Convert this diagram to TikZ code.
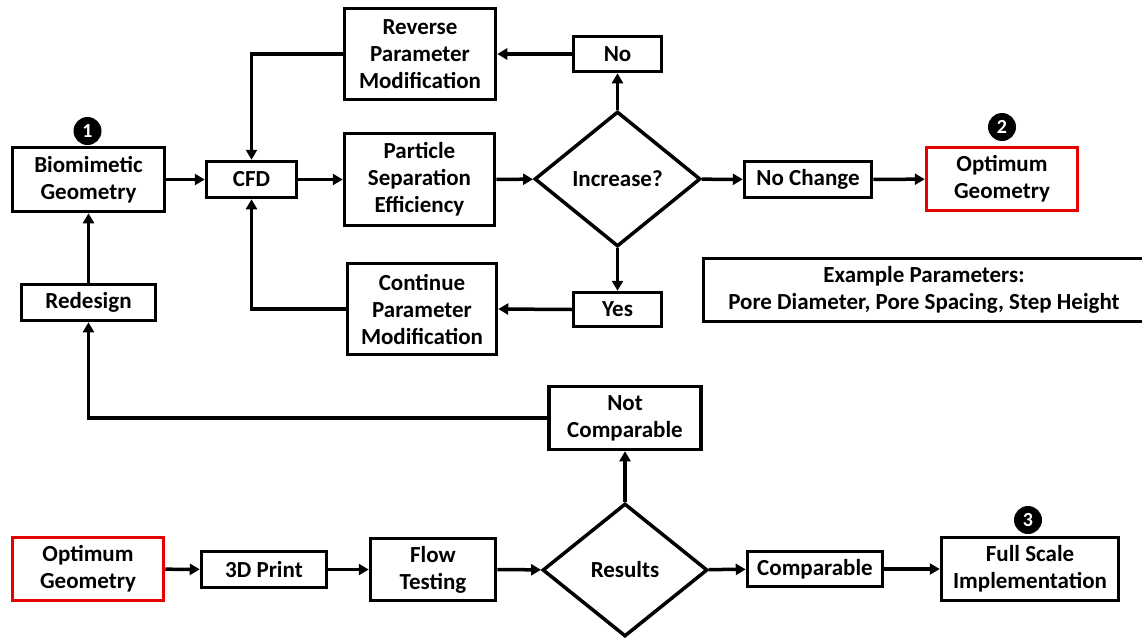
\documentclass[tikz,border=0pt]{standalone}
\usepackage{fontspec}
\setmainfont{Carlito}
\usetikzlibrary{shapes.geometric,arrows.meta}
\definecolor{boxred}{RGB}{230,0,0}
\begin{document}
\begin{tikzpicture}[x=1pt,y=-1pt,
 every node/.style={font=\fontsize{23}{27}\selectfont\bfseries},
 box/.style={draw, rectangle, line width=3.5pt, inner sep=0pt, align=center},
 redbox/.style={box, draw=boxred},
 dia/.style={draw, diamond, line width=3.5pt, inner sep=0pt, align=center},
 arr/.style={line width=3.5pt, -{Triangle[length=10pt,width=11pt]}},
 numc/.style={circle, fill=black, inner sep=0pt, minimum size=28pt, text=white, font=\fontsize{20}{20}\selectfont\bfseries}]
\useasboundingbox (0,0) rectangle (1142,640);
% top section
\node[box, minimum width=152pt, minimum height=64pt] (bio) at (88.5,179.5) {Biomimetic\\Geometry};
\node[numc] (n1) at (87.5,131) {1};
\node[box, minimum width=90pt, minimum height=36pt] (cfd) at (251.5,179.5) {CFD};
\node[box, minimum width=150pt, minimum height=92pt] (pse) at (419.5,179.5) {Particle\\Separation\\Efficiency};
\node[dia, minimum width=166pt, minimum height=135pt] (inc) at (617.5,179) {Increase?};
\node[box, minimum width=88pt, minimum height=35pt] (no) at (617.5,54) {No};
\node[box, minimum width=151pt, minimum height=91pt] (rev) at (420,54) {Reverse\\Parameter\\Modification};
\node[box, minimum width=127pt, minimum height=36pt] (noch) at (808,179.5) {No Change};
\node[redbox, minimum width=151pt, minimum height=63pt] (opt1) at (1002,179) {Optimum\\Geometry};
\node[numc] (n2) at (1002,127) {2};
\node[box, minimum width=441pt, minimum height=63pt] (ex) at (924,290) {Example Parameters:\\Pore Diameter, Pore Spacing, Step Height};
\node[box, minimum width=88pt, minimum height=34pt] (yes) at (617.5,309.5) {Yes};
\node[box, minimum width=149pt, minimum height=91pt] (cont) at (422,309) {Continue\\Parameter\\Modification};
\node[box, minimum width=134pt, minimum height=36pt] (red) at (88.5,302.5) {Redesign};
% bottom section
\node[box, minimum width=152pt, minimum height=63pt] (notc) at (625,418) {Not\\Comparable};
\node[redbox, minimum width=151pt, minimum height=63pt] (opt2) at (88,569) {Optimum\\Geometry};
\node[box, minimum width=125pt, minimum height=36pt] (print) at (264,569.5) {3D Print};
\node[box, minimum width=125pt, minimum height=62pt] (flow) at (433,569.5) {Flow\\Testing};
\node[dia, minimum width=165pt, minimum height=133pt] (res) at (625,570) {Results};
\node[box, minimum width=135pt, minimum height=35pt] (comp) at (815,569) {Comparable};
\node[box, minimum width=177pt, minimum height=63pt] (full) at (1030,569) {Full Scale\\Implementation};
\node[numc] (n3) at (1028,520) {3};
% connectors top
\draw[arr] (bio) -- (cfd);
\draw[arr] (cfd) -- (pse);
\draw[arr] (pse) -- (inc);
\draw[arr] (inc) -- (noch);
\draw[arr] (noch) -- (opt1);
\draw[arr] (inc.north) -- (no.south);
\draw[arr] (no.west) -- (rev.east);
\draw[arr] (rev.west) -| (cfd.north);
\draw[arr] (inc.south) -- (yes.north);
\draw[arr] (yes.west) -- (cont.east);
\draw[arr] (cont.west) -| (cfd.south);
\draw[arr] (red.north) -- (bio.south);
\draw[arr] (notc.west) -| (red.south);
% connectors bottom
\draw[arr] (opt2) -- (print);
\draw[arr] (print) -- (flow);
\draw[arr] (flow) -- (res);
\draw[arr] (res) -- (comp);
\draw[arr] (comp) -- (full);
\draw[arr] (res.north) -- (notc.south);
\end{tikzpicture}
\end{document}
